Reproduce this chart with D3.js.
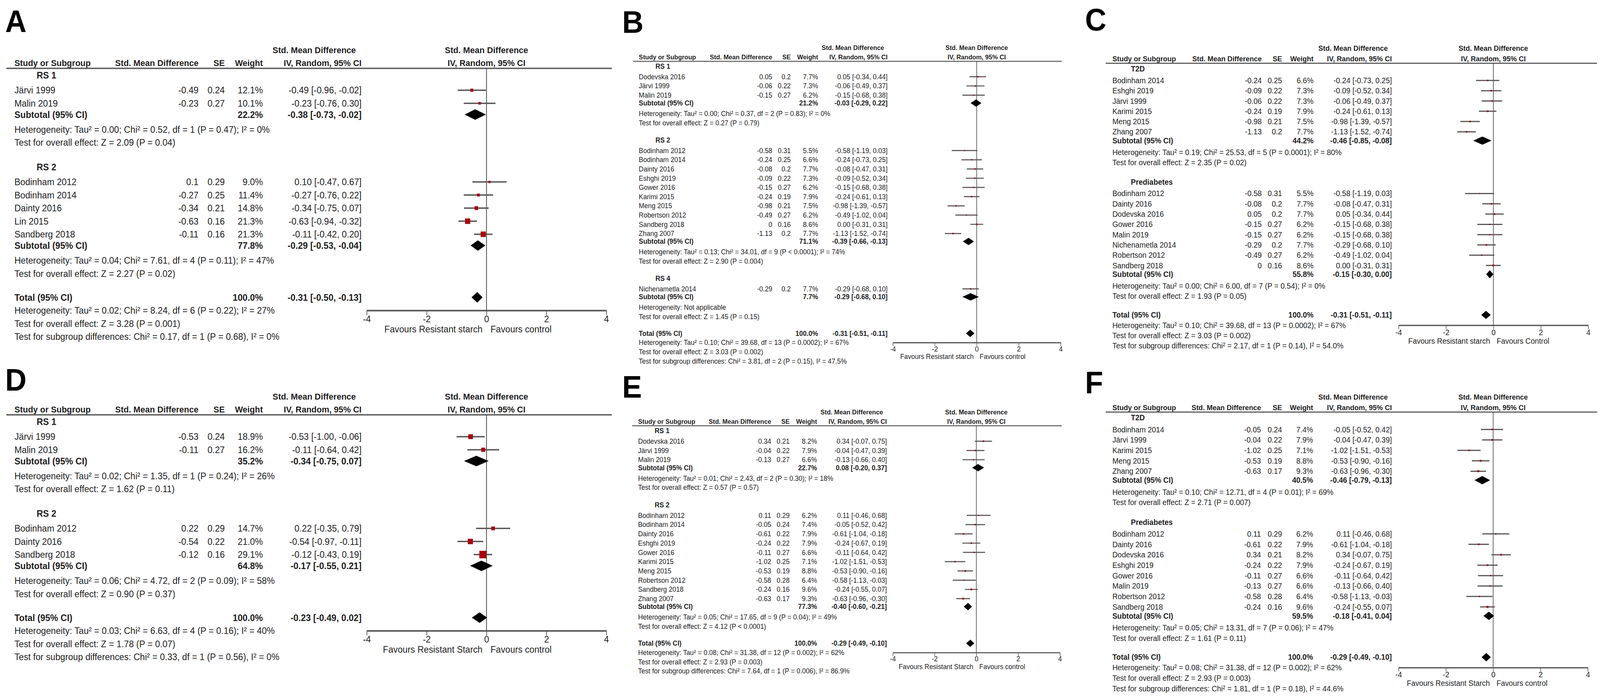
<!DOCTYPE html>
<html>
<head>
<meta charset="utf-8">
<script src="https://cdn.jsdelivr.net/npm/d3@7"></script>
<style>
html, body { margin: 0; padding: 0; width: 100%; height: 100%; overflow: hidden; background: #fff; }
#fig { display: block; width: 100vw; height: 100vh; }
svg text { font-family: "Liberation Sans", Arial, sans-serif; fill: #1e1e1e; }
</style>
</head>
<body>
<svg id="fig" viewBox="0 0 4328 1787" preserveAspectRatio="none"></svg>
<script>
// ---------------- data ----------------
var ticks = [-4, -2, 0, 2, 4];

// A
var groupsA = ["RS 1", "RS 2"];
var studiesA = [
  {g: "RS 1", name: "Järvi 1999", smd: -0.49, se: 0.24, w: 12.1, lo: -0.96, hi: -0.02},
  {g: "RS 1", name: "Malin 2019", smd: -0.23, se: 0.27, w: 10.1, lo: -0.76, hi: 0.30},
  {g: "RS 2", name: "Bodinham 2012", smd: 0.1, se: 0.29, w: 9.0, lo: -0.47, hi: 0.67},
  {g: "RS 2", name: "Bodinham 2014", smd: -0.27, se: 0.25, w: 11.4, lo: -0.76, hi: 0.22},
  {g: "RS 2", name: "Dainty 2016", smd: -0.34, se: 0.21, w: 14.8, lo: -0.75, hi: 0.07},
  {g: "RS 2", name: "Lin 2015", smd: -0.63, se: 0.16, w: 21.3, lo: -0.94, hi: -0.32},
  {g: "RS 2", name: "Sandberg 2018", smd: -0.11, se: 0.16, w: 21.3, lo: -0.42, hi: 0.20}
];
var subtotalsA = [
  {w: 22.2, est: -0.38, lo: -0.73, hi: -0.02, het: "Tau² = 0.00; Chi² = 0.52, df = 1 (P = 0.47); I² = 0%", z: "Z = 2.09 (P = 0.04)"},
  {w: 77.8, est: -0.29, lo: -0.53, hi: -0.04, het: "Tau² = 0.04; Chi² = 7.61, df = 4 (P = 0.11); I² = 47%", z: "Z = 2.27 (P = 0.02)"}
];
var totalA = {w: 100.0, est: -0.31, lo: -0.50, hi: -0.13, het: "Tau² = 0.02; Chi² = 8.24, df = 6 (P = 0.22); I² = 27%",
  z: "Z = 3.28 (P = 0.001)", sub: "Chi² = 0.17, df = 1 (P = 0.68), I² = 0%"};
var favoursA = ["Favours Resistant starch", "Favours control"];

// B
var groupsB = ["RS 1", "RS 2", "RS 4"];
var studiesB = [
  {g: "RS 1", name: "Dodevska 2016", smd: 0.05, se: 0.2, w: 7.7, lo: -0.34, hi: 0.44},
  {g: "RS 1", name: "Järvi 1999", smd: -0.06, se: 0.22, w: 7.3, lo: -0.49, hi: 0.37},
  {g: "RS 1", name: "Malin 2019", smd: -0.15, se: 0.27, w: 6.2, lo: -0.68, hi: 0.38},
  {g: "RS 2", name: "Bodinham 2012", smd: -0.58, se: 0.31, w: 5.5, lo: -1.19, hi: 0.03},
  {g: "RS 2", name: "Bodinham 2014", smd: -0.24, se: 0.25, w: 6.6, lo: -0.73, hi: 0.25},
  {g: "RS 2", name: "Dainty 2016", smd: -0.08, se: 0.2, w: 7.7, lo: -0.47, hi: 0.31},
  {g: "RS 2", name: "Eshghi 2019", smd: -0.09, se: 0.22, w: 7.3, lo: -0.52, hi: 0.34},
  {g: "RS 2", name: "Gower 2016", smd: -0.15, se: 0.27, w: 6.2, lo: -0.68, hi: 0.38},
  {g: "RS 2", name: "Karimi 2015", smd: -0.24, se: 0.19, w: 7.9, lo: -0.61, hi: 0.13},
  {g: "RS 2", name: "Meng 2015", smd: -0.98, se: 0.21, w: 7.5, lo: -1.39, hi: -0.57},
  {g: "RS 2", name: "Robertson 2012", smd: -0.49, se: 0.27, w: 6.2, lo: -1.02, hi: 0.04},
  {g: "RS 2", name: "Sandberg 2018", smd: 0, se: 0.16, w: 8.6, lo: -0.31, hi: 0.31},
  {g: "RS 2", name: "Zhang 2007", smd: -1.13, se: 0.2, w: 7.7, lo: -1.52, hi: -0.74},
  {g: "RS 4", name: "Nichenametla 2014", smd: -0.29, se: 0.2, w: 7.7, lo: -0.68, hi: 0.10}
];
var subtotalsB = [
  {w: 21.2, est: -0.03, lo: -0.29, hi: 0.22, het: "Tau² = 0.00; Chi² = 0.37, df = 2 (P = 0.83); I² = 0%", z: "Z = 0.27 (P = 0.79)"},
  {w: 71.1, est: -0.39, lo: -0.66, hi: -0.13, het: "Tau² = 0.13; Chi² = 34.01, df = 9 (P < 0.0001); I² = 74%", z: "Z = 2.90 (P = 0.004)"},
  {w: 7.7, est: -0.29, lo: -0.68, hi: 0.10, het: "Not applicable", z: "Z = 1.45 (P = 0.15)"}
];
var totalB = {w: 100.0, est: -0.31, lo: -0.51, hi: -0.11, het: "Tau² = 0.10; Chi² = 39.68, df = 13 (P = 0.0002); I² = 67%",
  z: "Z = 3.03 (P = 0.002)", sub: "Chi² = 3.81, df = 2 (P = 0.15), I² = 47.5%"};
var favoursB = ["Favours Resistant starch", "Favours control"];

// C
var groupsC = ["T2D", "Prediabetes"];
var studiesC = [
  {g: "T2D", name: "Bodinham 2014", smd: -0.24, se: 0.25, w: 6.6, lo: -0.73, hi: 0.25},
  {g: "T2D", name: "Eshghi 2019", smd: -0.09, se: 0.22, w: 7.3, lo: -0.52, hi: 0.34},
  {g: "T2D", name: "Järvi 1999", smd: -0.06, se: 0.22, w: 7.3, lo: -0.49, hi: 0.37},
  {g: "T2D", name: "Karimi 2015", smd: -0.24, se: 0.19, w: 7.9, lo: -0.61, hi: 0.13},
  {g: "T2D", name: "Meng 2015", smd: -0.98, se: 0.21, w: 7.5, lo: -1.39, hi: -0.57},
  {g: "T2D", name: "Zhang 2007", smd: -1.13, se: 0.2, w: 7.7, lo: -1.52, hi: -0.74},
  {g: "Prediabetes", name: "Bodinham 2012", smd: -0.58, se: 0.31, w: 5.5, lo: -1.19, hi: 0.03},
  {g: "Prediabetes", name: "Dainty 2016", smd: -0.08, se: 0.2, w: 7.7, lo: -0.47, hi: 0.31},
  {g: "Prediabetes", name: "Dodevska 2016", smd: 0.05, se: 0.2, w: 7.7, lo: -0.34, hi: 0.44},
  {g: "Prediabetes", name: "Gower 2016", smd: -0.15, se: 0.27, w: 6.2, lo: -0.68, hi: 0.38},
  {g: "Prediabetes", name: "Malin 2019", smd: -0.15, se: 0.27, w: 6.2, lo: -0.68, hi: 0.38},
  {g: "Prediabetes", name: "Nichenametla 2014", smd: -0.29, se: 0.2, w: 7.7, lo: -0.68, hi: 0.10},
  {g: "Prediabetes", name: "Robertson 2012", smd: -0.49, se: 0.27, w: 6.2, lo: -1.02, hi: 0.04},
  {g: "Prediabetes", name: "Sandberg 2018", smd: 0, se: 0.16, w: 8.6, lo: -0.31, hi: 0.31}
];
var subtotalsC = [
  {w: 44.2, est: -0.46, lo: -0.85, hi: -0.08, het: "Tau² = 0.19; Chi² = 25.53, df = 5 (P = 0.0001); I² = 80%", z: "Z = 2.35 (P = 0.02)"},
  {w: 55.8, est: -0.15, lo: -0.30, hi: 0.00, het: "Tau² = 0.00; Chi² = 6.00, df = 7 (P = 0.54); I² = 0%", z: "Z = 1.93 (P = 0.05)"}
];
var totalC = {w: 100.0, est: -0.31, lo: -0.51, hi: -0.11, het: "Tau² = 0.10; Chi² = 39.68, df = 13 (P = 0.0002); I² = 67%",
  z: "Z = 3.03 (P = 0.002)", sub: "Chi² = 2.17, df = 1 (P = 0.14), I² = 54.0%"};
var favoursC = ["Favours Resistant starch", "Favours Control"];

// D
var groupsD = ["RS 1", "RS 2"];
var studiesD = [
  {g: "RS 1", name: "Järvi 1999", smd: -0.53, se: 0.24, w: 18.9, lo: -1.00, hi: -0.06},
  {g: "RS 1", name: "Malin 2019", smd: -0.11, se: 0.27, w: 16.2, lo: -0.64, hi: 0.42},
  {g: "RS 2", name: "Bodinham 2012", smd: 0.22, se: 0.29, w: 14.7, lo: -0.35, hi: 0.79},
  {g: "RS 2", name: "Dainty 2016", smd: -0.54, se: 0.22, w: 21.0, lo: -0.97, hi: -0.11},
  {g: "RS 2", name: "Sandberg 2018", smd: -0.12, se: 0.16, w: 29.1, lo: -0.43, hi: 0.19}
];
var subtotalsD = [
  {w: 35.2, est: -0.34, lo: -0.75, hi: 0.07, het: "Tau² = 0.02; Chi² = 1.35, df = 1 (P = 0.24); I² = 26%", z: "Z = 1.62 (P = 0.11)"},
  {w: 64.8, est: -0.17, lo: -0.55, hi: 0.21, het: "Tau² = 0.06; Chi² = 4.72, df = 2 (P = 0.09); I² = 58%", z: "Z = 0.90 (P = 0.37)"}
];
var totalD = {w: 100.0, est: -0.23, lo: -0.49, hi: 0.02, het: "Tau² = 0.03; Chi² = 6.63, df = 4 (P = 0.16); I² = 40%",
  z: "Z = 1.78 (P = 0.07)", sub: "Chi² = 0.33, df = 1 (P = 0.56), I² = 0%"};
var favoursD = ["Favours Resistant Starch", "Favours control"];

// E
var groupsE = ["RS 1", "RS 2"];
var studiesE = [
  {g: "RS 1", name: "Dodevska 2016", smd: 0.34, se: 0.21, w: 8.2, lo: -0.07, hi: 0.75},
  {g: "RS 1", name: "Järvi 1999", smd: -0.04, se: 0.22, w: 7.9, lo: -0.47, hi: 0.39},
  {g: "RS 1", name: "Malin 2019", smd: -0.13, se: 0.27, w: 6.6, lo: -0.66, hi: 0.40},
  {g: "RS 2", name: "Bodinham 2012", smd: 0.11, se: 0.29, w: 6.2, lo: -0.46, hi: 0.68},
  {g: "RS 2", name: "Bodinham 2014", smd: -0.05, se: 0.24, w: 7.4, lo: -0.52, hi: 0.42},
  {g: "RS 2", name: "Dainty 2016", smd: -0.61, se: 0.22, w: 7.9, lo: -1.04, hi: -0.18},
  {g: "RS 2", name: "Eshghi 2019", smd: -0.24, se: 0.22, w: 7.9, lo: -0.67, hi: 0.19},
  {g: "RS 2", name: "Gower 2016", smd: -0.11, se: 0.27, w: 6.6, lo: -0.64, hi: 0.42},
  {g: "RS 2", name: "Karimi 2015", smd: -1.02, se: 0.25, w: 7.1, lo: -1.51, hi: -0.53},
  {g: "RS 2", name: "Meng 2015", smd: -0.53, se: 0.19, w: 8.8, lo: -0.90, hi: -0.16},
  {g: "RS 2", name: "Robertson 2012", smd: -0.58, se: 0.28, w: 6.4, lo: -1.13, hi: -0.03},
  {g: "RS 2", name: "Sandberg 2018", smd: -0.24, se: 0.16, w: 9.6, lo: -0.55, hi: 0.07},
  {g: "RS 2", name: "Zhang 2007", smd: -0.63, se: 0.17, w: 9.3, lo: -0.96, hi: -0.30}
];
var subtotalsE = [
  {w: 22.7, est: 0.08, lo: -0.20, hi: 0.37, het: "Tau² = 0.01; Chi² = 2.43, df = 2 (P = 0.30); I² = 18%", z: "Z = 0.57 (P = 0.57)"},
  {w: 77.3, est: -0.40, lo: -0.60, hi: -0.21, het: "Tau² = 0.05; Chi² = 17.65, df = 9 (P = 0.04); I² = 49%", z: "Z = 4.12 (P < 0.0001)"}
];
var totalE = {w: 100.0, est: -0.29, lo: -0.49, hi: -0.10, het: "Tau² = 0.08; Chi² = 31.38, df = 12 (P = 0.002); I² = 62%",
  z: "Z = 2.93 (P = 0.003)", sub: "Chi² = 7.64, df = 1 (P = 0.006), I² = 86.9%"};
var favoursE = ["Favours Resistant Starch", "Favours control"];

// F
var groupsF = ["T2D", "Prediabetes"];
var studiesF = [
  {g: "T2D", name: "Bodinham 2014", smd: -0.05, se: 0.24, w: 7.4, lo: -0.52, hi: 0.42},
  {g: "T2D", name: "Järvi 1999", smd: -0.04, se: 0.22, w: 7.9, lo: -0.47, hi: 0.39},
  {g: "T2D", name: "Karimi 2015", smd: -1.02, se: 0.25, w: 7.1, lo: -1.51, hi: -0.53},
  {g: "T2D", name: "Meng 2015", smd: -0.53, se: 0.19, w: 8.8, lo: -0.90, hi: -0.16},
  {g: "T2D", name: "Zhang 2007", smd: -0.63, se: 0.17, w: 9.3, lo: -0.96, hi: -0.30},
  {g: "Prediabetes", name: "Bodinham 2012", smd: 0.11, se: 0.29, w: 6.2, lo: -0.46, hi: 0.68},
  {g: "Prediabetes", name: "Dainty 2016", smd: -0.61, se: 0.22, w: 7.9, lo: -1.04, hi: -0.18},
  {g: "Prediabetes", name: "Dodevska 2016", smd: 0.34, se: 0.21, w: 8.2, lo: -0.07, hi: 0.75},
  {g: "Prediabetes", name: "Eshghi 2019", smd: -0.24, se: 0.22, w: 7.9, lo: -0.67, hi: 0.19},
  {g: "Prediabetes", name: "Gower 2016", smd: -0.11, se: 0.27, w: 6.6, lo: -0.64, hi: 0.42},
  {g: "Prediabetes", name: "Malin 2019", smd: -0.13, se: 0.27, w: 6.6, lo: -0.66, hi: 0.40},
  {g: "Prediabetes", name: "Robertson 2012", smd: -0.58, se: 0.28, w: 6.4, lo: -1.13, hi: -0.03},
  {g: "Prediabetes", name: "Sandberg 2018", smd: -0.24, se: 0.16, w: 9.6, lo: -0.55, hi: 0.07}
];
var subtotalsF = [
  {w: 40.5, est: -0.46, lo: -0.79, hi: -0.13, het: "Tau² = 0.10; Chi² = 12.71, df = 4 (P = 0.01); I² = 69%", z: "Z = 2.71 (P = 0.007)"},
  {w: 59.5, est: -0.18, lo: -0.41, hi: 0.04, het: "Tau² = 0.05; Chi² = 13.31, df = 7 (P = 0.06); I² = 47%", z: "Z = 1.61 (P = 0.11)"}
];
var totalF = {w: 100.0, est: -0.29, lo: -0.49, hi: -0.10, het: "Tau² = 0.08; Chi² = 31.38, df = 12 (P = 0.002); I² = 62%",
  z: "Z = 2.93 (P = 0.003)", sub: "Chi² = 1.81, df = 1 (P = 0.18), I² = 44.6%"};
var favoursF = ["Favours Resistant Starch", "Favours control"];

// ---------------- layout (pixels) ----------------
var layout = [
  {key: "A", lab: [14, 82], x0: 39, rule: 175, ruleX: [17, 1655], fs: 24, p: 33.5,
   cSmd: 537, cSe: 608, cW: 711, cCI: 978, ciHead: 850, range: [992, 1640],
   groups: groupsA, studies: studiesA, subs: subtotalsA, total: totalA, fav: favoursA},
  {key: "B", lab: [1683, 84], x0: 1728, rule: 157, ruleX: [1712, 2872], fs: 18, p: 23.6,
   cSmd: 2089, cSe: 2139, cW: 2213, cCI: 2401, ciHead: 2307, range: [2415, 2869],
   groups: groupsB, studies: studiesB, subs: subtotalsB, total: totalB, fav: favoursB},
  {key: "C", lab: [2935, 78], x0: 3009, rule: 162, ruleX: [2991, 4320], fs: 20, p: 26.3,
   cSmd: 3413, cSe: 3468, cW: 3553, cCI: 3765, ciHead: 3660, range: [3783, 4296],
   groups: groupsC, studies: studiesC, subs: subtotalsC, total: totalC, fav: favoursC},
  {key: "D", lab: [14, 1000], x0: 39, rule: 1062, ruleX: [17, 1655], fs: 24, p: 33.5,
   cSmd: 537, cSe: 608, cW: 711, cCI: 978, ciHead: 850, range: [992, 1640],
   groups: groupsD, studies: studiesD, subs: subtotalsD, total: totalD, fav: favoursD},
  {key: "E", lab: [1683, 1018], x0: 1726, rule: 1090, ruleX: [1710, 2872], fs: 18, p: 23.7,
   cSmd: 2086, cSe: 2136, cW: 2210, cCI: 2399, ciHead: 2304, range: [2415, 2867],
   groups: groupsE, studies: studiesE, subs: subtotalsE, total: totalE, fav: favoursE},
  {key: "F", lab: [2935, 1007], x0: 3009, rule: 1055, ruleX: [2991, 4320], fs: 20, p: 26.7,
   cSmd: 3411, cSe: 3468, cW: 3552, cCI: 3765, ciHead: 3660, range: [3783, 4295],
   groups: groupsF, studies: studiesF, subs: subtotalsF, total: totalF, fav: favoursF}
];

var svg = d3.select("#fig");

function f2(v) { return v.toFixed(2); }
function ciText(est, lo, hi) { return f2(est) + " [" + f2(lo) + ", " + f2(hi) + "]"; }

layout.forEach(drawPanel);

function drawPanel(L) {
  var g = svg.append("g").attr("class", "panel");
  var fs = L.fs, p = L.p;
  var x = d3.scaleLinear().domain([-4, 4]).range(L.range);
  var zero = x(0);

  // one line of text, y = visual centre
  function txt(xp, y, s, anchor, bold, size) {
    return g.append("text")
      .attr("x", xp).attr("y", y).attr("dy", "0.35em")
      .attr("font-size", size || fs)
      .attr("text-anchor", anchor || "start")
      .attr("font-weight", bold ? "bold" : null)
      .text(s);
  }

  // panel letter
  g.append("text").attr("x", L.lab[0]).attr("y", L.lab[1])
    .attr("font-size", 80).attr("font-weight", "bold")
    .style("fill", "#000").text(L.key);

  // header
  var hs = fs * 0.95;
  var h1 = L.rule - 1.95 * fs, h2 = L.rule - 0.6 * fs;
  txt(L.ciHead, h1, "Std. Mean Difference", "middle", true, hs);
  txt(zero, h1, "Std. Mean Difference", "middle", true, hs);
  txt(L.x0, h2, "Study or Subgroup", "start", true, hs);
  txt(L.cSmd, h2, "Std. Mean Difference", "end", true, hs);
  txt(L.cSe, h2, "SE", "end", true, hs);
  txt(L.cW, h2, "Weight", "end", true, hs);
  txt(L.cCI, h2, "IV, Random, 95% CI", "end", true, hs);
  txt(zero, h2, "IV, Random, 95% CI", "middle", true, hs);

  g.append("line")
    .attr("x1", L.ruleX[0]).attr("x2", L.ruleX[1])
    .attr("y1", L.rule).attr("y2", L.rule)
    .attr("stroke", "#5a5a5a").attr("stroke-width", fs * 0.14);

  // row positions
  var rows = [];
  var y = L.rule + 0.54 * p;
  L.groups.forEach(function (grp, gi) {
    if (gi > 0) y += 1.88 * p;
    rows.push({kind: "group", y: y, text: grp});
    L.studies.filter(function (s) { return s.g === grp; }).forEach(function (s, i) {
      y += (i === 0 ? 1.13 : 1) * p;
      rows.push({kind: "study", y: y, d: s});
    });
    var st = L.subs[gi];
    y += 0.86 * p; rows.push({kind: "sub", y: y, d: st, label: "Subtotal (95% CI)"});
    y += 1.14 * p; rows.push({kind: "note", y: y, text: "Heterogeneity: " + st.het});
    y += p; rows.push({kind: "note", y: y, text: "Test for overall effect: " + st.z});
  });
  y += 1.82 * p;
  rows.push({kind: "sub", y: y, d: L.total, label: "Total (95% CI)"});
  var yAxis = y + p;
  y += p; rows.push({kind: "note", y: y, text: "Heterogeneity: " + L.total.het});
  y += p; rows.push({kind: "note", y: y, text: "Test for overall effect: " + L.total.z});
  y += p; rows.push({kind: "note", y: y, text: "Test for subgroup differences: " + L.total.sub});

  // zero line
  g.append("line")
    .attr("x1", zero).attr("x2", zero)
    .attr("y1", L.rule).attr("y2", yAxis)
    .attr("stroke", "#3a3a3a").attr("stroke-width", Math.max(1.5, fs * 0.08));

  rows.forEach(function (r) {
    if (r.kind === "group") {
      txt(L.x0 + 2.5 * fs, r.y, r.text, "start", true);
    } else if (r.kind === "note") {
      txt(L.x0, r.y, r.text);
    } else if (r.kind === "study") {
      var d = r.d;
      txt(L.x0, r.y, d.name);
      txt(L.cSmd, r.y, String(d.smd), "end");
      txt(L.cSe, r.y, String(d.se), "end");
      txt(L.cW, r.y, d.w.toFixed(1) + "%", "end");
      txt(L.cCI, r.y, ciText(d.smd, d.lo, d.hi), "end");
    } else if (r.kind === "sub") {
      txt(L.x0, r.y, r.label, "start", true);
      txt(L.cW, r.y, r.d.w.toFixed(1) + "%", "end", true);
      txt(L.cCI, r.y, ciText(r.d.est, r.d.lo, r.d.hi), "end", true);
    }
  });

  // confidence intervals and squares
  var st = rows.filter(function (r) { return r.kind === "study"; });
  g.selectAll("line.ci").data(st).enter().append("line")
    .attr("class", "ci")
    .attr("x1", function (r) { return x(r.d.lo); })
    .attr("x2", function (r) { return x(r.d.hi); })
    .attr("y1", function (r) { return r.y; })
    .attr("y2", function (r) { return r.y; })
    .attr("stroke", "#555").attr("stroke-width", fs * 0.15);

  var k = 0.66 * fs / 24;
  function side(r) { return Math.max(3, k * r.d.w); }
  g.selectAll("rect.pt").data(st).enter().append("rect")
    .attr("class", "pt")
    .attr("x", function (r) { return x(r.d.smd) - side(r) / 2; })
    .attr("y", function (r) { return r.y - side(r) / 2; })
    .attr("width", side)
    .attr("height", side)
    .attr("fill", "#a8000f");

  // diamonds
  var dh = 0.8 * p;
  g.selectAll("path.dia").data(rows.filter(function (r) { return r.kind === "sub"; }))
    .enter().append("path")
    .attr("class", "dia")
    .attr("d", function (r) {
      return "M" + x(r.d.lo) + "," + r.y + "L" + x(r.d.est) + "," + (r.y - dh / 2) +
        "L" + x(r.d.hi) + "," + r.y + "L" + x(r.d.est) + "," + (r.y + dh / 2) + "Z";
    })
    .attr("fill", "#000");

  // axis
  var axis = d3.axisBottom(x).tickValues(ticks)
    .tickSize(0.5 * fs).tickSizeOuter(0).tickPadding(1)
    .tickFormat(function (d) { return String(d); });
  var ag = g.append("g").attr("transform", "translate(0," + yAxis + ")").call(axis);
  ag.attr("font-size", null).attr("font-family", null);
  ag.select(".domain").attr("stroke", "#555").attr("stroke-width", fs * 0.16);
  ag.selectAll(".tick line").attr("stroke", "#555").attr("stroke-width", Math.max(1.5, fs * 0.08));
  ag.selectAll(".tick text").attr("font-size", fs).style("fill", "#1e1e1e");

  var gap = fs * 0.45;
  txt(zero - gap, yAxis + 2.0 * fs, L.fav[0], "end");
  txt(zero + gap, yAxis + 2.0 * fs, L.fav[1], "start");
}
</script>
</body>
</html>
